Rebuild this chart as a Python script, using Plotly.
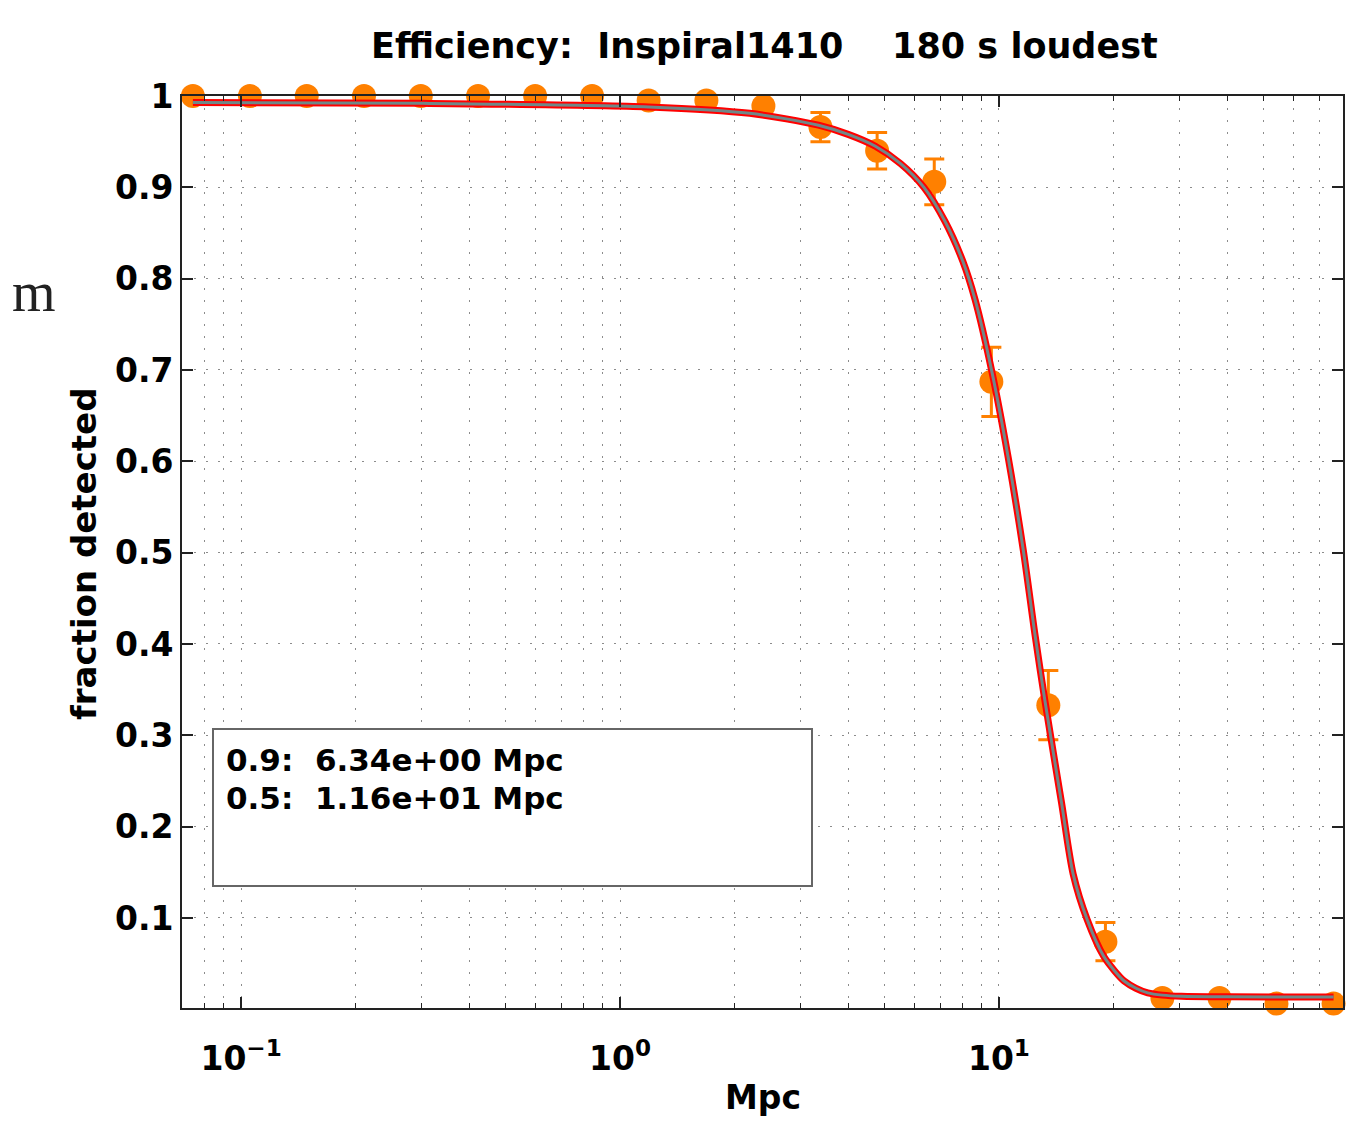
import plotly.graph_objects as go

# ---------------- data ----------------
mpc = [0.0746, 0.1055, 0.149, 0.211, 0.298, 0.422, 0.597, 0.844, 1.19, 1.69,
       2.39, 3.38, 4.77, 6.75, 9.55, 13.5, 19.1, 27.0, 38.2, 54.0, 76.4]
frac = [1.0, 1.0, 1.0, 1.0, 1.0, 1.0, 1.0, 1.0, 0.995, 0.995,
        0.989, 0.966, 0.940, 0.906, 0.687, 0.333, 0.074, 0.0124, 0.0124, 0.0062, 0.0062]
frac_err = [0, 0, 0, 0, 0, 0, 0, 0, 0, 0,
            0.004, 0.016, 0.020, 0.025, 0.038, 0.038, 0.021, 0, 0, 0, 0]

fit_x = [0.0746, 0.3, 1.19, 2.2, 3.34, 4.0, 4.72, 5.5, 6.34, 7.2, 8.03, 8.65,
         9.57, 10.58, 11.6, 12.45, 13.22, 14.63, 15.7, 17.1, 18.9, 20.2, 21.4,
         23.0, 24.7, 27.0, 30.3, 40.0, 76.4]
fit_y = [0.993, 0.992, 0.988, 0.981, 0.968, 0.958, 0.945, 0.926, 0.900, 0.863,
         0.819, 0.777, 0.699, 0.604, 0.502, 0.410, 0.338, 0.226, 0.148, 0.098,
         0.058, 0.042, 0.031, 0.023, 0.018, 0.0155, 0.0142, 0.0136, 0.0135]

x_tickvals = [0.1, 1, 10]
x_ticktext = ["10<sup>\u22121</sup>", "10<sup>0</sup>", "10<sup>1</sup>"]
x_minor = [0.08, 0.09, 0.2, 0.3, 0.4, 0.5, 0.6, 0.7, 0.8, 0.9,
           2, 3, 4, 5, 6, 7, 8, 9, 20, 30, 40, 50, 60, 70]
y_tickvals = [0.1, 0.2, 0.3, 0.4, 0.5, 0.6, 0.7, 0.8, 0.9, 1.0]
y_ticktext = ["0.1", "0.2", "0.3", "0.4", "0.5", "0.6", "0.7", "0.8", "0.9", "1"]

title_text = "Efficiency:  Inspiral1410    180 s loudest"
legend_lines = ["0.9:  6.34e+00 Mpc", "0.5:  1.16e+01 Mpc"]

# ---------------- figure ----------------
OFF = 8                      # page body margin of the html page
W, H = 1367 - OFF, 1121 - OFF
L, R, T, B = 182 - OFF, 24, 96 - OFF, 113
FONT = "DejaVu Sans"
ORANGE = "#ff8000"


def px(xp):
    """reference-screen x pixel -> paper coordinate"""
    return (xp - OFF - L) / (W - L - R)


def py(yp):
    """reference-screen y pixel -> paper coordinate"""
    return (H - B - (yp - OFF)) / (H - B - T)


fig = go.Figure()

fig.add_trace(go.Scatter(
    x=mpc, y=frac, mode="markers",
    marker=dict(color=ORANGE, size=24, line=dict(width=0)),
    error_y=dict(type="data", array=frac_err, visible=True,
                 color=ORANGE, thickness=3, width=10),
    cliponaxis=False, hoverinfo="skip", showlegend=False,
))
fig.add_trace(go.Scatter(
    x=fit_x, y=fit_y, mode="lines",
    line=dict(color="#ff0000", width=7, shape="spline", smoothing=0.8),
    hoverinfo="skip", showlegend=False,
))
fig.add_trace(go.Scatter(
    x=fit_x, y=fit_y, mode="lines",
    line=dict(color="#708888", width=3, shape="spline", smoothing=0.8),
    hoverinfo="skip", showlegend=False,
))

tickfont = dict(family=FONT, size=33, color="black", weight="bold")
grid_common = dict(gridcolor="#8c8c8c", griddash="2px,10px", gridwidth=1)

fig.update_xaxes(
    type="log", range=[-1.156, 1.908],
    tickmode="array", tickvals=x_tickvals, ticktext=x_ticktext,
    ticks="inside", ticklen=11, tickwidth=1.5, tickcolor="#222",
    showline=True, linecolor="#222", linewidth=2, mirror="ticks",
    showgrid=True, **grid_common,
    minor=dict(tickvals=x_minor, ticks="inside", ticklen=5, tickwidth=1,
               tickcolor="#222", showgrid=True, **grid_common),
    tickfont=tickfont, zeroline=False, ticklabelstandoff=20,
)
fig.update_yaxes(
    range=[0.0014, 1.0],
    tickmode="array", tickvals=y_tickvals, ticktext=y_ticktext,
    ticks="inside", ticklen=11, tickwidth=1.5, tickcolor="#222",
    showline=True, linecolor="#222", linewidth=2, mirror="ticks",
    showgrid=True, **grid_common,
    tickfont=tickfont, zeroline=False, ticklabelstandoff=0,
)

annotations = [
    dict(text=title_text, x=px(764.5), y=py(45.8), xref="paper", yref="paper",
         xanchor="center", yanchor="middle", showarrow=False,
         font=dict(family=FONT, size=35, color="black", weight="bold")),
    dict(text="Mpc", x=px(763), y=py(1097), xref="paper", yref="paper",
         xanchor="center", yanchor="middle", showarrow=False,
         font=dict(family=FONT, size=33, color="black", weight="bold")),
    dict(text="fraction detected", x=px(84), y=py(554), xref="paper", yref="paper",
         xanchor="center", yanchor="middle", showarrow=False, textangle=-90,
         font=dict(family=FONT, size=34, color="black", weight="bold")),
    dict(text=legend_lines[0], x=px(224), y=py(759.5), xref="paper", yref="paper",
         xanchor="left", yanchor="middle", showarrow=False,
         font=dict(family=FONT, size=31, color="black", weight="bold")),
    dict(text=legend_lines[1], x=px(224), y=py(797.5), xref="paper", yref="paper",
         xanchor="left", yanchor="middle", showarrow=False,
         font=dict(family=FONT, size=31, color="black", weight="bold")),
    # fragment of slide text at the left edge (kept fully inside the page)
    dict(text="m", x=px(10), y=py(292), xref="paper", yref="paper",
         xanchor="left", yanchor="middle", showarrow=False,
         font=dict(family="Liberation Serif", size=56, color="#222")),
]

shapes = [
    # legend box
    dict(type="rect", xref="paper", yref="paper",
         x0=px(213), x1=px(812), y0=py(886), y1=py(729),
         line=dict(color="#666", width=2), fillcolor="white", layer="above"),
]

fig.update_layout(
    width=W, height=H, autosize=False,
    margin=dict(l=L, r=R, t=T, b=B, pad=0),
    paper_bgcolor="white", plot_bgcolor="white",
    annotations=annotations, shapes=shapes,
    showlegend=False,
)

fig.write_html("out.html", config={"displayModeBar": False})
